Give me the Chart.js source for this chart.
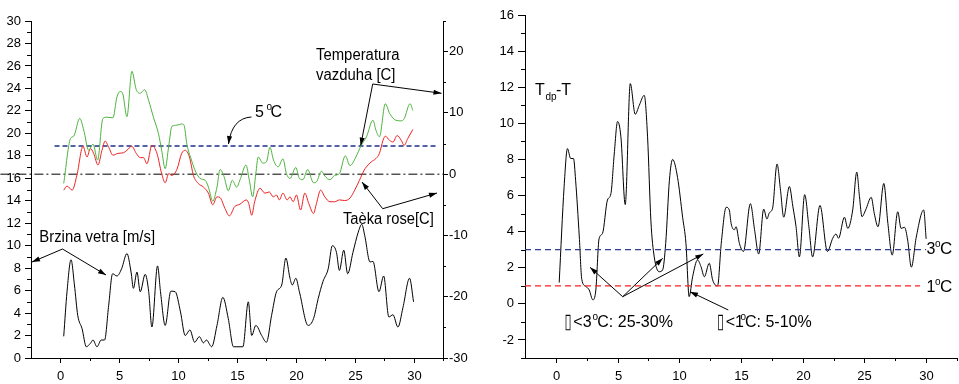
<!DOCTYPE html>
<html><head><meta charset="utf-8">
<script src="https://cdn.jsdelivr.net/npm/chart.js@4.4.1/dist/chart.umd.min.js"></script>
<style>
html,body{margin:0;padding:0;background:#fff;overflow:hidden;width:959px;height:384px}
#c1{position:absolute;left:0;top:0;width:472px;height:384px}
#c2{position:absolute;left:480px;top:0;width:479px;height:384px}
</style></head>
<body>
<canvas id="c1" width="472" height="384"></canvas>
<canvas id="c2" width="479" height="384"></canvas>
<script>
// ---------------- DATA ----------------
const windX = [0.28,0.56,0.9,1.19,1.47,1.84,2.2,2.54,2.77,3.1,3.47,3.75,4.1,4.43,4.8,5.2,5.65,6.0,6.2,6.5,6.78,7.2,7.5,7.77,8.25,8.5,8.9,9.38,9.75,10.2,10.6,11.0,11.4,11.8,12.15,12.4,12.85,13.3,13.8,14.26,14.7,15.5,15.96,16.25,16.6,17.1,17.5,17.94,18.36,18.8,19.15,19.5,19.7,20.0,20.3,21.04,21.5,21.9,22.3,22.75,23.1,23.45,23.7,24.07,24.4,24.85,25.3,25.6,25.85,26.3,26.55,27.06,27.46,27.9,28.25,28.67,29.1,29.66,30.0];
const windV = [1.93,5.9,8.75,6.5,3.8,2.6,1.0,1.3,1.6,1.0,1.6,1.6,4.7,7.5,7.3,7.95,9.3,7.65,6.2,7.65,5.9,7.45,5.9,2.76,8.2,5.9,2.9,5.95,5.9,4.1,2.0,2.5,1.4,1.9,1.35,1.6,1.0,2.9,5.4,3.5,1.0,1.0,5.0,2.0,2.9,2.0,1.4,3.8,5.9,6.5,8.9,7.1,6.5,7.1,5.9,2.9,3.5,5.3,6.8,7.95,10.0,9.4,7.8,9.6,7.5,9.4,11.2,11.9,10.9,8.55,8.6,5.9,7.3,3.65,3.85,2.75,4.5,7.1,5.0];
const airX = [0.28,0.85,1.13,1.64,1.98,2.4,2.77,3.16,3.6,3.95,4.46,4.8,5.08,5.3,5.65,6.07,6.44,6.78,7.15,7.5,7.9,8.33,8.6,8.9,9.2,9.47,9.9,10.3,10.5,10.75,11.1,11.4,11.86,12.3,12.57,12.94,13.3,13.56,13.9,14.26,14.6,14.97,15.3,15.76,16.05,16.33,16.6,16.8,17.2,17.5,17.8,18.1,18.5,18.9,19.2,19.5,20.0,20.3,20.6,21.0,21.5,21.75,22.18,22.46,22.9,23.3,23.7,24.2,24.6,25.1,25.55,26.0,26.55,26.8,27.1,27.6,27.97,28.5,28.96,29.2,29.7,29.94];
const airT = [-1.5,5.8,6.2,9.1,7.2,3.9,4.9,2.3,9.05,9.3,9.2,12.6,13.5,13.1,9.4,16.8,13.8,13.2,13.8,12.0,9.3,6.6,3.9,0.9,4.6,7.8,8.0,8.2,8.0,4.8,2.5,0.8,-0.7,-1.0,-2.1,-4.4,-2.1,0.76,-0.4,-2.7,-1.0,-2.1,-0.7,1.5,-1.0,-3.7,0.1,2.8,1.8,2.0,4.4,2.3,1.2,2.5,0.1,-0.7,1.1,-0.7,-0.9,0.76,-1.4,-1.25,0.5,-0.3,-0.9,-0.2,0.1,3.0,1.4,2.8,4.7,6.1,8.8,7.2,6.1,11.5,9.9,8.8,8.7,9.05,11.5,10.4];
const dewX = [0.28,0.56,1.0,1.4,1.92,2.26,2.54,2.82,3.19,3.53,3.8,4.1,4.46,4.9,5.36,5.65,6.07,6.44,6.78,7.06,7.35,7.77,8.2,8.6,8.9,9.2,9.46,9.9,10.3,10.6,10.96,11.3,11.7,12.15,12.57,12.94,13.3,13.55,13.98,14.35,14.8,15.25,15.8,16.0,16.25,16.5,16.95,17.37,17.74,18.08,18.35,18.6,18.9,19.26,19.5,19.77,20.05,20.4,20.76,21.1,21.5,21.75,22.1,22.46,22.9,23.3,23.7,24.15,24.6,25.0,25.4,25.8,26.0,26.4,26.8,27.1,27.4,27.6,27.97,28.25,28.6,28.96,29.2,29.5,29.94];
const dewT = [-2.6,-1.95,-2.6,-0.16,4.55,2.8,4.2,3.4,1.5,3.9,5.4,4.4,3.1,3.4,3.5,3.9,4.55,3.4,2.7,2.7,1.7,4.7,3.4,0.1,-1.4,0.1,-0.2,0.8,3.4,3.9,2.8,-0.2,-1.5,-2.1,-3.1,-5.0,-3.7,-3.8,-5.6,-6.8,-5.3,-4.9,-4.2,-4.8,-6.7,-4.5,-2.3,-3.1,-2.9,-3.7,-3.4,-4.2,-3.1,-4.2,-3.7,-4.5,-3.4,-5.85,-3.1,-4.8,-6.4,-4.8,-2.6,-3.7,-4.5,-4.5,-4.2,-4.3,-3.9,-2.6,-1.0,0.65,1.2,2.0,2.55,3.4,5.5,6.2,5.5,5.25,6.3,5.5,4.7,5.8,7.3];
const levelFiveC = 4.6;
const levelZero = 0;
const tdX = [0.27,0.67,0.94,1.2,1.43,1.6,1.9,2.1,2.43,2.7,3.0,3.24,3.5,3.78,4.18,4.46,4.73,5.0,5.27,5.62,6.03,6.43,6.76,7.16,7.43,7.7,7.97,8.38,8.65,8.9,9.2,9.46,9.86,10.27,10.54,10.8,11.08,11.48,11.76,12.03,12.43,12.7,13.1,13.4,13.8,14.05,14.2,14.46,14.6,14.87,15.2,15.76,16.1,16.43,16.84,17.1,17.3,17.56,17.92,18.2,18.46,18.92,19.2,19.46,19.73,20.16,20.5,20.8,21.4,22.0,22.43,22.7,22.9,23.38,23.65,24.05,24.38,24.6,24.8,25.1,25.55,25.8,26.1,26.57,26.9,27.25,27.7,27.97,28.25,28.5,28.8,29.2,29.8,30.0];
const tdV = [1.18,6.5,8.6,8.05,8.05,6.85,3.7,1.36,0.96,0.77,0.22,0.77,3.6,3.9,5.75,6.1,8.3,10.1,9.25,5.5,12.2,10.5,11.0,11.55,9.25,4.6,2.6,1.78,1.88,3.35,6.85,8.0,7.0,4.8,3.35,0.4,1.5,2.43,2.06,1.5,2.25,1.33,0.99,3.35,5.35,5.2,4.45,4.1,4.27,3.35,2.9,5.55,4.1,2.76,5.25,4.7,5.05,5.3,7.75,6.3,4.8,6.5,5.4,4.27,2.6,6.05,4.27,2.6,5.45,2.9,3.63,3.87,3.63,4.8,4.18,5.2,7.3,5.93,4.83,5.2,5.9,5.0,4.27,6.67,4.46,2.7,5.1,4.18,4.24,3.54,2.03,3.7,5.2,3.6];
const levelThree = 3;
const levelOne = 1;
const xTicks = {min:-2.5, max:32.5, step:5, first:0, last:30};
const leftTicks = {min:0, max:30, step:2};
const rightTicks = {min:-30, max:25, step:10};
const tdTicks = {min:-3, max:16, step:2};
const txtAir = ['Temperatura', 'vazduha [C]'];
const txtDew = 'Taèka rose[C]';
const txtWind = 'Brzina vetra [m/s]';
const txtFive = ['5', 'o', 'C'];
const txtTd = ['T', 'dp', '-T'];
const txtThree = ['3', 'o', 'C'];
const txtOne = ['1', 'o', 'C'];
const txtBelow3 = ['\u25AF', '<3', 'o', 'C: 25-30%'];
const txtBelow1 = ['\u25AF', '<1', 'o', 'C: 5-10%'];

// ---------------- HELPERS ----------------
const FAM = '"Liberation Sans", Arial, "DejaVu Sans", sans-serif';
Chart.defaults.color = '#000';
Chart.defaults.font.family = FAM;
Chart.defaults.font.size = 13;
const pts = (xs, ys) => xs.map((x, i) => ({x, y: ys[i]}));

function txt(ctx, s, x, y, size, sx) {
  ctx.save();
  ctx.font = size + 'px ' + FAM;
  ctx.fillStyle = '#000';
  ctx.textBaseline = 'alphabetic';
  ctx.textAlign = 'left';
  ctx.translate(x, y);
  ctx.scale(sx || 1, 1);
  ctx.fillText(s, 0, 0);
  ctx.restore();
}
function arrow(ctx, x1, y1, x2, y2) {
  ctx.beginPath(); ctx.moveTo(x1, y1); ctx.lineTo(x2, y2); ctx.stroke();
  head(ctx, Math.atan2(y2 - y1, x2 - x1), x2, y2);
}
function head(ctx, a, x2, y2) {
  const L = 8, W = 2.6;
  ctx.beginPath();
  ctx.moveTo(x2, y2);
  ctx.lineTo(x2 - L * Math.cos(a) + W * Math.sin(a), y2 - L * Math.sin(a) - W * Math.cos(a));
  ctx.lineTo(x2 - L * Math.cos(a) - W * Math.sin(a), y2 - L * Math.sin(a) + W * Math.cos(a));
  ctx.closePath(); ctx.fill();
}

// x-axis tick marks/labels and minor ticks, placed through the library scales
const axisPlugin = {
  id: 'axisx',
  afterDraw(chart, args, opts) {
    const ctx = chart.ctx;
    ctx.save();
    ctx.strokeStyle = '#000'; ctx.lineWidth = 1;
    for (const m of opts.list) {
      const s = chart.scales[m.axis];
      for (let v = m.from; v <= m.to + 1e-9; v += m.step) {
        const p = Math.round(s.getPixelForValue(v)) + 0.5;
        ctx.beginPath();
        if (m.axis === 'x') { const b = chart.chartArea.bottom; ctx.moveTo(p, b); ctx.lineTo(p, b + m.len); }
        else if (s.position === 'left') { ctx.moveTo(s.right, p); ctx.lineTo(s.right - m.len, p); }
        else { ctx.moveTo(s.left, p); ctx.lineTo(s.left + m.len, p); }
        ctx.stroke();
      }
    }
    const sx = chart.scales.x, b = chart.chartArea.bottom;
    ctx.fillStyle = '#000';
    ctx.font = '13px ' + FAM;
    ctx.textAlign = 'center'; ctx.textBaseline = 'alphabetic';
    for (let v = xTicks.first; v <= xTicks.last; v += xTicks.step) {
      const p = Math.round(sx.getPixelForValue(v)) + 0.5;
      ctx.beginPath(); ctx.moveTo(p, b); ctx.lineTo(p, b + 5); ctx.stroke();
      ctx.fillText(String(v), p, b + 22);
    }
    ctx.restore();
  }
};
const annoPlugin = {
  id: 'anno',
  afterDraw(chart, args, opts) {
    const ctx = chart.ctx;
    ctx.save(); ctx.strokeStyle = '#000'; ctx.fillStyle = '#000'; ctx.lineWidth = 1;
    opts.draw(ctx, opts.ox || 0);
    ctx.restore();
  }
};

function xScale() {
  return {
    type: 'linear', min: xTicks.min, max: xTicks.max, position: 'bottom',
    border: {color: '#000', width: 1},
    grid: {display: false},
    ticks: {display: false},
    afterFit(s) { s.height = 0; }
  };
}
const lineBase = {showLine: true, pointRadius: 0, borderWidth: 1, fill: false, cubicInterpolationMode: 'monotone'};
const common = {
  responsive: false, animation: false, events: [],
  plugins: {legend: {display: false}, tooltip: {enabled: false}},
};

// ---------------- LEFT CHART ----------------
new Chart(document.getElementById('c1'), {
  type: 'scatter',
  data: {datasets: [
    Object.assign({data: pts(windX, windV), yAxisID: 'y', borderColor: '#000'}, lineBase),
    Object.assign({data: pts(airX, airT), yAxisID: 'y2', borderColor: '#4db33d'}, lineBase),
    Object.assign({data: pts(dewX, dewT), yAxisID: 'y2', borderColor: '#ee2020'}, lineBase),
    Object.assign({}, lineBase, {data: [{x: -0.5, y: levelFiveC}, {x: 31.95, y: levelFiveC}], yAxisID: 'y2', borderColor: '#1f2f8c', borderWidth: 1.3, borderDash: [5, 3], cubicInterpolationMode: 'default', tension: 0}),
    Object.assign({}, lineBase, {data: [{x: -5.1, y: levelZero}, {x: 32.5, y: levelZero}], yAxisID: 'y2', borderColor: '#000', borderDash: [9, 3, 2, 3], cubicInterpolationMode: 'default', tension: 0, clip: false})
  ]},
  options: Object.assign({}, common, {
    layout: {padding: {top: 21, left: 0, right: 0, bottom: 26}},
    plugins: Object.assign({}, common.plugins, {
      axisx: {list: [
        {axis: 'x', from: 2.5, to: 32.5, step: 5, len: 3},
        {axis: 'y', from: 1, to: 29, step: 2, len: 4},
        {axis: 'y2', from: -25, to: 25, step: 10, len: 3}
      ]},
      anno: {ox: 0, draw(ctx, ox) {
        txt(ctx, txtFive[0], 255, 117, 16, 1);
        txt(ctx, txtFive[1], 266.5, 110, 10, 1);
        txt(ctx, txtFive[2], 270.5, 117, 16, 1);
        ctx.beginPath(); ctx.moveTo(251.5, 117); ctx.quadraticCurveTo(232, 118, 228.5, 144); ctx.stroke();
        head(ctx, Math.atan2(144 - 118, 228.5 - 232), 228.5, 144);
        txt(ctx, txtAir[0], 316, 60, 16, 0.93);
        txt(ctx, txtAir[1], 316, 80, 16, 0.93);
        arrow(ctx, 372.7, 84, 360.7, 145.5);
        arrow(ctx, 372.7, 84, 441.5, 93.3);
        txt(ctx, txtDew, 343, 223.7, 16, 0.92);
        arrow(ctx, 382.7, 208.7, 362, 182);
        arrow(ctx, 382.7, 208.7, 437, 193);
        txt(ctx, txtWind, 39.3, 242, 16, 0.93);
        arrow(ctx, 62.5, 249, 32, 262);
        arrow(ctx, 62.5, 249, 106, 275);
      }}
    }),
    scales: {
      x: xScale(),
      y: {position: 'left', min: leftTicks.min, max: leftTicks.max,
        border: {color: '#000'},
        grid: {drawOnChartArea: false, tickLength: 6, color: '#000'},
        ticks: {stepSize: leftTicks.step, padding: 4},
        afterFit(s) { s.width = 31; }},
      y2: {position: 'right', min: rightTicks.min, max: rightTicks.max,
        border: {color: '#000'},
        grid: {drawOnChartArea: false, tickLength: 5,
          tickColor: c => (c.tick && c.tick.value % rightTicks.step === 0) ? '#000' : 'rgba(0,0,0,0)'},
        ticks: {stepSize: rightTicks.step, padding: 1,
          callback: v => (v % rightTicks.step === 0 ? v : '')},
        afterFit(s) { s.width = 29; }}
    }
  }),
  plugins: [axisPlugin, annoPlugin]
});

// ---------------- RIGHT CHART ----------------
new Chart(document.getElementById('c2'), {
  type: 'scatter',
  data: {datasets: [
    Object.assign({}, lineBase, {data: [{x: xTicks.min, y: levelThree}, {x: 30.0, y: levelThree}], borderColor: '#2f3f98', borderWidth: 1.3, borderDash: [6, 4], cubicInterpolationMode: 'default', tension: 0}),
    Object.assign({}, lineBase, {data: [{x: xTicks.min, y: levelOne}, {x: 29.5, y: levelOne}], borderColor: '#ff2020', borderWidth: 1.3, borderDash: [6, 4], cubicInterpolationMode: 'default', tension: 0}),
    Object.assign({data: pts(tdX, tdV), borderColor: '#000'}, lineBase)
  ]},
  options: Object.assign({}, common, {
    layout: {padding: {top: 15, left: 0, right: 2, bottom: 26}},
    plugins: Object.assign({}, common.plugins, {
      axisx: {list: [
        {axis: 'x', from: 2.5, to: 32.5, step: 5, len: 3},
        {axis: 'y', from: -3, to: 15, step: 2, len: 4}
      ]},
      anno: {ox: 480, draw(ctx, ox) {
        const X = v => v - ox;
        txt(ctx, txtTd[0], X(535), 95, 16, 1);
        txt(ctx, txtTd[1], X(545.5), 100, 10, 1);
        txt(ctx, txtTd[2], X(556), 95, 16, 1);
        txt(ctx, txtThree[0], X(926.5), 254, 16, 1);
        txt(ctx, txtThree[1], X(935), 247, 10, 1);
        txt(ctx, txtThree[2], X(940), 254, 17, 1);
        txt(ctx, txtOne[0], X(926.5), 292, 16, 1);
        txt(ctx, txtOne[1], X(935), 285, 10, 1);
        txt(ctx, txtOne[2], X(940), 292, 17, 1);
        txt(ctx, txtBelow3[0], X(564.5), 328, 21, 0.6);
        txt(ctx, txtBelow3[1], X(573.3), 327, 16, 1);
        txt(ctx, txtBelow3[2], X(592.5), 320, 10, 1);
        txt(ctx, txtBelow3[3], X(597.3), 327, 16, 1);
        txt(ctx, txtBelow1[0], X(717), 328, 21, 0.6);
        txt(ctx, txtBelow1[1], X(725.7), 327, 16, 1);
        txt(ctx, txtBelow1[2], X(740.5), 320, 10, 1);
        txt(ctx, txtBelow1[3], X(745), 327, 16, 1);
        arrow(ctx, X(622.7), 296.7, X(590), 267.3);
        arrow(ctx, X(622.7), 296.7, X(662.7), 258.3);
        arrow(ctx, X(622.7), 296.7, X(703.3), 254);
        arrow(ctx, X(728.3), 310, X(690), 291.7);
      }}
    }),
    scales: {
      x: xScale(),
      y: {position: 'left', min: tdTicks.min, max: tdTicks.max,
        border: {color: '#000'},
        grid: {drawOnChartArea: false, tickLength: 7,
          tickColor: c => (c.tick && c.tick.value % tdTicks.step === 0) ? '#000' : 'rgba(0,0,0,0)'},
        ticks: {stepSize: tdTicks.step, padding: 4,
          callback: v => (v % tdTicks.step === 0 ? v : '')},
        afterFit(s) { s.width = 45; }}
    }
  }),
  plugins: [axisPlugin, annoPlugin]
});
</script>
</body></html>
